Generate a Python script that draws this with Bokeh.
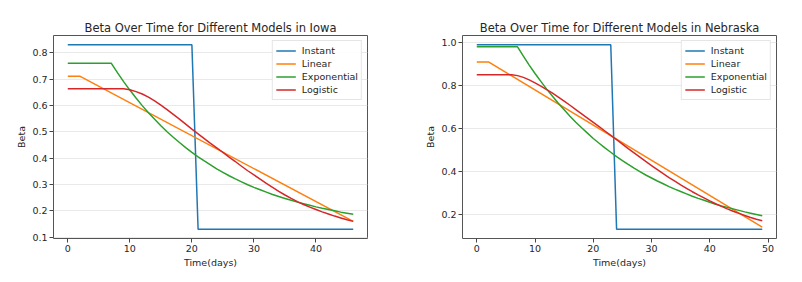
from bokeh.plotting import figure
from bokeh.layouts import row
from bokeh.models import FixedTicker, PrintfTickFormatter, Range1d, Legend, LegendItem
from bokeh.embed import file_html
from bokeh.resources import INLINE

# ---------------- Data ----------------
iowa_days = list(range(47))
iowa_instant_x = [0, 20, 21, 46]
iowa_instant_y = [0.83, 0.83, 0.13, 0.13]
iowa_linear_x = [0, 2, 46]
iowa_linear_y = [0.71, 0.71, 0.16]
iowa_exponential = [0.76, 0.76, 0.76, 0.76, 0.76, 0.76, 0.76,
                    0.760, 0.724, 0.690, 0.658, 0.628, 0.599, 0.572, 0.547, 0.523, 0.500,
                    0.479, 0.459, 0.440, 0.422, 0.405, 0.389, 0.374, 0.359, 0.346, 0.333,
                    0.321, 0.310, 0.299, 0.289, 0.280, 0.271, 0.262, 0.254, 0.247, 0.240,
                    0.233, 0.227, 0.221, 0.215, 0.210, 0.205, 0.200, 0.195, 0.191, 0.187]
iowa_logistic = [0.663, 0.663, 0.663, 0.663, 0.663, 0.663, 0.663, 0.663, 0.663,
                 0.663, 0.659, 0.652, 0.643, 0.631, 0.617, 0.601, 0.584, 0.566, 0.548,
                 0.529, 0.510, 0.492, 0.474, 0.456, 0.439, 0.422, 0.404, 0.387, 0.369,
                 0.352, 0.336, 0.320, 0.304, 0.289, 0.274, 0.260, 0.247, 0.235, 0.224,
                 0.214, 0.205, 0.196, 0.188, 0.180, 0.173, 0.166, 0.160]

neb_days = list(range(50))
neb_instant_x = [0, 23, 24, 49]
neb_instant_y = [0.99, 0.99, 0.13, 0.13]
neb_linear_x = [0, 2, 49]
neb_linear_y = [0.91, 0.91, 0.14]
neb_exponential = [0.98, 0.98, 0.98, 0.98, 0.98, 0.98, 0.98,
                   0.980, 0.937, 0.895, 0.856, 0.819, 0.783, 0.750, 0.717, 0.687, 0.657,
                   0.629, 0.603, 0.578, 0.553, 0.531, 0.509, 0.489, 0.469, 0.450, 0.432,
                   0.415, 0.399, 0.383, 0.369, 0.355, 0.342, 0.329, 0.317, 0.306, 0.295,
                   0.284, 0.274, 0.265, 0.256, 0.247, 0.239, 0.232, 0.225, 0.218, 0.211,
                   0.205, 0.199, 0.193]
neb_logistic = [0.85, 0.85, 0.85, 0.85, 0.85, 0.85,
                0.850, 0.846, 0.838, 0.826, 0.812, 0.797, 0.781, 0.764, 0.746, 0.727,
                0.708, 0.688, 0.668, 0.648, 0.628, 0.608, 0.588, 0.568, 0.548, 0.527,
                0.506, 0.486, 0.466, 0.446, 0.427, 0.408, 0.389, 0.371, 0.354, 0.337,
                0.321, 0.305, 0.290, 0.276, 0.262, 0.249, 0.237, 0.225, 0.214, 0.204,
                0.194, 0.185, 0.177, 0.170]

iowa_yticks = [0.1, 0.2, 0.3, 0.4, 0.5, 0.6, 0.7, 0.8]
neb_yticks = [0.2, 0.4, 0.6, 0.8, 1.0]
iowa_xticks = [0, 10, 20, 30, 40]
neb_xticks = [0, 10, 20, 30, 40, 50]
series_names = ["Instant", "Linear", "Exponential", "Logistic"]
colors = ["#1f77b4", "#ff7f0e", "#2ca02c", "#d62728"]

FONT = "DejaVu Sans"
TXT = "#262626"


def make_plot(title, width, bl, br, xr, yr, xticks, yticks,
              inst_x, inst_y, lin_x, lin_y, days, expo, logi):
    p = figure(width=width, height=274, output_backend="svg", toolbar_location=None,
               x_range=Range1d(*xr), y_range=Range1d(*yr),
               min_border_left=bl, min_border_right=br, min_border_top=35,
               min_border_bottom=36)
    p.title.text = title
    p.title.align = "center"
    p.title.text_font = FONT
    p.title.text_font_size = "11.5px"
    p.title.text_font_style = "normal"
    p.title.text_color = TXT
    p.title.standoff = 2

    p.outline_line_color = "#555555"
    p.outline_line_width = 1
    p.background_fill_color = "white"
    p.border_fill_color = "white"

    p.xgrid.visible = False
    p.ygrid.grid_line_color = "#e9e9e9"
    p.ygrid.grid_line_width = 1

    for ax in (p.xaxis[0], p.yaxis[0]):
        ax.axis_line_color = None
        ax.major_tick_line_color = "#444444"
        ax.minor_tick_line_color = None
        ax.major_tick_out = 4
        ax.major_tick_in = 0
        ax.major_label_text_font = FONT
        ax.major_label_text_font_size = "9.5px"
        ax.major_label_text_color = TXT
        ax.axis_label_text_font = FONT
        ax.axis_label_text_font_size = "9.5px"
        ax.axis_label_text_font_style = "normal"
        ax.axis_label_text_color = TXT
        ax.major_label_standoff = 2
        ax.axis_label_standoff = 2

    p.xaxis.ticker = FixedTicker(ticks=xticks)
    p.yaxis.ticker = FixedTicker(ticks=yticks)
    p.yaxis.formatter = PrintfTickFormatter(format="%.1f")
    p.xaxis.axis_label = "Time(days)"
    p.yaxis.axis_label = "Beta"

    r1 = p.line(inst_x, inst_y, line_color=colors[0], line_width=1.5)
    r2 = p.line(lin_x, lin_y, line_color=colors[1], line_width=1.5)
    r3 = p.line(days, expo, line_color=colors[2], line_width=1.5)
    r4 = p.line(days, logi, line_color=colors[3], line_width=1.5)

    legend = Legend(items=[LegendItem(label=n, renderers=[r])
                           for n, r in zip(series_names, [r1, r2, r3, r4])],
                    location="top_right")
    legend.label_text_font = FONT
    legend.label_text_font_size = "9.5px"
    legend.label_text_color = TXT
    legend.glyph_width = 20
    legend.glyph_height = 13
    legend.label_height = 13
    legend.spacing = 0
    legend.padding = 3
    legend.margin = 5
    legend.label_standoff = 6
    legend.border_line_color = "#cccccc"
    legend.border_line_width = 1
    legend.background_fill_alpha = 0.9
    p.add_layout(legend)
    return p


p1 = make_plot("Beta Over Time for Different Models in Iowa", 403, 53, 36,
               (-2.3, 48.3), (0.095, 0.865), iowa_xticks, iowa_yticks,
               iowa_instant_x, iowa_instant_y, iowa_linear_x, iowa_linear_y,
               iowa_days, iowa_exponential, iowa_logistic)
p2 = make_plot("Beta Over Time for Different Models in Nebraska", 397, 59, 24,
               (-2.45, 51.45), (0.087, 1.033), neb_xticks, neb_yticks,
               neb_instant_x, neb_instant_y, neb_linear_x, neb_linear_y,
               neb_days, neb_exponential, neb_logistic)

layout = row(p1, p2)
open("out.html", "w").write(file_html(layout, INLINE))
